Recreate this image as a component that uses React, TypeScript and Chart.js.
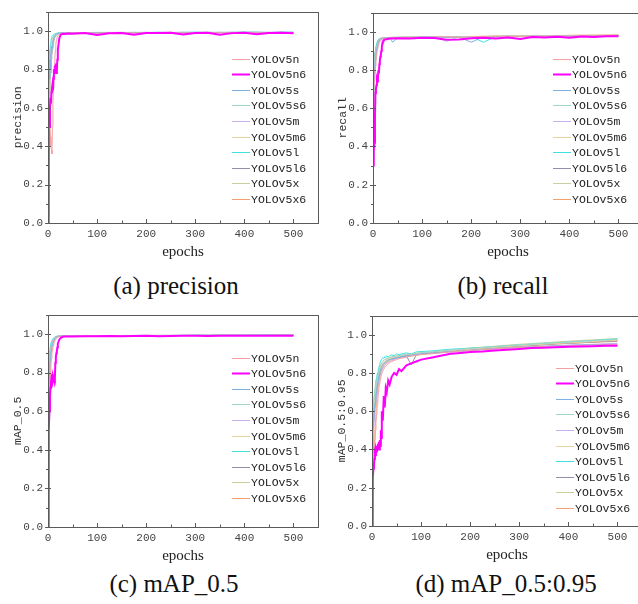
import React, { useEffect, useRef } from 'react';
import { Chart, registerables } from 'chart.js';

Chart.register(...registerables);

const MODELS = ['YOLOv5n', 'YOLOv5n6', 'YOLOv5s', 'YOLOv5s6', 'YOLOv5m', 'YOLOv5m6', 'YOLOv5l', 'YOLOv5l6', 'YOLOv5x', 'YOLOv5x6'];
const COLORS = ['#f4a0a0', '#ff00ff', '#7fb0e0', '#9fd8c8', '#c8b0f0', '#e8d0a0', '#40e0e0', '#9090a8', '#c8d0a0', '#f4a070'];
const WIDTHS = [1, 2, 1, 1, 1, 1, 1, 1, 1, 1];

const X_TICKS = [0, 100, 200, 300, 400, 500];
const Y_TICKS = [0, 0.2, 0.4, 0.6, 0.8, 1.0];

// epochs sampled for precision / recall / mAP_0.5
const EPOCHS_1 = [0, 1, 2, 3, 4, 5, 6, 7, 8, 9, 10, 11, 12, 13, 14, 15, 16, 17, 18, 19, 20,
  23, 26, 30, 35, 40,
  50, 75, 100, 125, 150, 175, 200, 225, 250, 275, 300, 325, 350, 375, 400, 425, 450, 475, 500];

// epochs sampled for mAP_0.5:0.95
const EPOCHS_2 = [0, 1, 2, 3, 4, 5, 6, 7, 8, 9, 10, 11, 12, 13, 14, 15, 16, 17, 18, 19, 20,
  22, 24, 26, 28, 30,
  33, 36, 40, 45, 50, 55, 60,
  70, 80, 90, 100,
  120, 140, 160, 180, 200,
  225, 250, 275, 300, 325, 350, 375, 400, 425, 450, 475, 500];

const PRECISION = [
  [0.05, 0.45, 0.6, 0.55, 0.5, 0.45, 0.4, 0.38, 0.36, 0.5, 0.62, 0.7, 0.75, 0.82, 0.86, 0.9, 0.93, 0.95, 0.96, 0.97, 0.975,
    0.98, 0.985, 0.987, 0.988, 0.989,
    0.989, 0.99, 0.988, 0.99, 0.991, 0.989, 0.99, 0.99, 0.991, 0.989, 0.99, 0.991, 0.99, 0.99, 0.991, 0.99, 0.99, 0.991, 0.99],
  [0.0, 0.3, 0.55, 0.5, 0.6, 0.65, 0.62, 0.68, 0.7, 0.72, 0.69, 0.75, 0.8, 0.78, 0.82, 0.79, 0.83, 0.78, 0.79, 0.85, 0.9,
    0.96, 0.98, 0.985, 0.984, 0.986,
    0.985, 0.988, 0.978, 0.987, 0.988, 0.98, 0.989, 0.988, 0.99, 0.981, 0.989, 0.99, 0.979, 0.988, 0.99, 0.982, 0.989, 0.99, 0.987],
  [0.3, 0.7, 0.8, 0.75, 0.85, 0.8, 0.88, 0.9, 0.92, 0.91, 0.94, 0.95, 0.96, 0.965, 0.97, 0.975, 0.978, 0.98, 0.982, 0.984, 0.985,
    0.986, 0.988, 0.989, 0.99, 0.99,
    0.99, 0.991, 0.99, 0.991, 0.992, 0.99, 0.991, 0.992, 0.991, 0.99, 0.992, 0.991, 0.992, 0.991, 0.992, 0.993, 0.992, 0.992, 0.993],
  [0.2, 0.6, 0.7, 0.65, 0.75, 0.8, 0.78, 0.85, 0.88, 0.9, 0.93, 0.95, 0.96, 0.97, 0.975, 0.98, 0.98, 0.982, 0.984, 0.985, 0.986,
    0.987, 0.988, 0.989, 0.99, 0.99,
    0.991, 0.99, 0.991, 0.992, 0.991, 0.99, 0.992, 0.991, 0.992, 0.991, 0.99, 0.992, 0.991, 0.992, 0.993, 0.992, 0.991, 0.992, 0.992],
  [0.85, 0.9, 0.8, 0.85, 0.82, 0.88, 0.9, 0.92, 0.9, 0.93, 0.95, 0.96, 0.965, 0.97, 0.975, 0.978, 0.98, 0.982, 0.984, 0.985, 0.986,
    0.987, 0.988, 0.989, 0.99, 0.99,
    0.99, 0.991, 0.99, 0.99, 0.991, 0.992, 0.99, 0.991, 0.99, 0.992, 0.991, 0.99, 0.991, 0.992, 0.991, 0.99, 0.992, 0.991, 0.99],
  [0.4, 0.65, 0.75, 0.7, 0.8, 0.85, 0.82, 0.88, 0.9, 0.92, 0.95, 0.93, 0.96, 0.97, 0.975, 0.97, 0.98, 0.982, 0.983, 0.985, 0.986,
    0.987, 0.988, 0.99, 0.99, 0.99,
    0.99, 0.99, 0.991, 0.99, 0.992, 0.991, 0.99, 0.991, 0.992, 0.99, 0.991, 0.992, 0.991, 0.99, 0.991, 0.992, 0.991, 0.99, 0.991],
  [0.5, 0.75, 0.85, 0.8, 0.9, 0.93, 0.95, 0.96, 0.97, 0.975, 0.978, 0.98, 0.982, 0.984, 0.985, 0.985, 0.986, 0.987, 0.988, 0.988, 0.989,
    0.989, 0.99, 0.99, 0.99, 0.991,
    0.991, 0.99, 0.992, 0.991, 0.99, 0.992, 0.991, 0.992, 0.991, 0.992, 0.993, 0.992, 0.991, 0.992, 0.993, 0.992, 0.991, 0.993, 0.992],
  [0.9, 0.88, 0.7, 0.75, 0.8, 0.78, 0.85, 0.88, 0.9, 0.92, 0.94, 0.95, 0.96, 0.97, 0.972, 0.975, 0.978, 0.98, 0.982, 0.984, 0.985,
    0.986, 0.988, 0.989, 0.99, 0.99,
    0.99, 0.991, 0.99, 0.991, 0.99, 0.991, 0.992, 0.99, 0.991, 0.992, 0.991, 0.99, 0.992, 0.991, 0.992, 0.99, 0.991, 0.992, 0.991],
  [0.6, 0.7, 0.65, 0.75, 0.8, 0.85, 0.9, 0.92, 0.95, 0.96, 0.965, 0.97, 0.975, 0.978, 0.98, 0.982, 0.984, 0.985, 0.986, 0.987, 0.988,
    0.988, 0.989, 0.99, 0.99, 0.99,
    0.99, 0.991, 0.99, 0.99, 0.991, 0.99, 0.991, 0.992, 0.99, 0.991, 0.99, 0.992, 0.991, 0.99, 0.991, 0.992, 0.99, 0.991, 0.99],
  [0.55, 0.6, 0.7, 0.68, 0.75, 0.8, 0.85, 0.9, 0.88, 0.92, 0.94, 0.96, 0.97, 0.975, 0.978, 0.98, 0.982, 0.984, 0.985, 0.986, 0.987,
    0.988, 0.989, 0.99, 0.99, 0.99,
    0.99, 0.99, 0.991, 0.99, 0.991, 0.99, 0.991, 0.99, 0.992, 0.99, 0.991, 0.99, 0.991, 0.992, 0.99, 0.991, 0.99, 0.991, 0.99],
];

const RECALL = [
  [0.4, 0.6, 0.7, 0.75, 0.8, 0.82, 0.85, 0.88, 0.9, 0.91, 0.92, 0.93, 0.94, 0.945, 0.95, 0.955, 0.958, 0.96, 0.962, 0.963, 0.964,
    0.965, 0.966, 0.966, 0.967, 0.967,
    0.968, 0.97, 0.969, 0.972, 0.973, 0.971, 0.974, 0.975, 0.973, 0.976, 0.975, 0.977, 0.976, 0.978, 0.977, 0.979, 0.978, 0.98, 0.981],
  [0.3, 0.45, 0.38, 0.42, 0.55, 0.68, 0.7, 0.72, 0.75, 0.74, 0.76, 0.8, 0.78, 0.83, 0.85, 0.87, 0.88, 0.9, 0.92, 0.94, 0.95,
    0.958, 0.96, 0.962, 0.964, 0.965,
    0.966, 0.965, 0.968, 0.967, 0.958, 0.96, 0.966, 0.968, 0.965, 0.97, 0.962, 0.972, 0.97, 0.974, 0.968, 0.975, 0.973, 0.976, 0.977],
  [0.35, 0.6, 0.72, 0.78, 0.8, 0.85, 0.87, 0.9, 0.91, 0.92, 0.93, 0.94, 0.95, 0.955, 0.958, 0.96, 0.962, 0.963, 0.964, 0.965, 0.965,
    0.966, 0.967, 0.967, 0.968, 0.945,
    0.968, 0.969, 0.97, 0.971, 0.97, 0.972, 0.945, 0.973, 0.974, 0.975, 0.974, 0.976, 0.975, 0.977, 0.976, 0.977, 0.978, 0.977, 0.978],
  [0.5, 0.65, 0.75, 0.8, 0.84, 0.86, 0.88, 0.9, 0.92, 0.93, 0.94, 0.945, 0.95, 0.955, 0.958, 0.96, 0.962, 0.963, 0.964, 0.965, 0.966,
    0.966, 0.967, 0.968, 0.968, 0.969,
    0.969, 0.97, 0.971, 0.972, 0.95, 0.973, 0.974, 0.974, 0.975, 0.976, 0.976, 0.977, 0.977, 0.978, 0.978, 0.979, 0.979, 0.98, 0.98],
  [0.55, 0.7, 0.78, 0.82, 0.85, 0.87, 0.89, 0.9, 0.92, 0.93, 0.94, 0.945, 0.95, 0.955, 0.96, 0.962, 0.963, 0.964, 0.965, 0.966, 0.967,
    0.945, 0.967, 0.968, 0.968, 0.969,
    0.969, 0.97, 0.971, 0.972, 0.972, 0.973, 0.974, 0.974, 0.975, 0.976, 0.975, 0.977, 0.976, 0.977, 0.978, 0.977, 0.979, 0.978, 0.979],
  [0.6, 0.72, 0.8, 0.84, 0.86, 0.88, 0.9, 0.91, 0.92, 0.93, 0.94, 0.95, 0.955, 0.96, 0.962, 0.964, 0.965, 0.966, 0.967, 0.967, 0.968,
    0.968, 0.969, 0.969, 0.97, 0.97,
    0.97, 0.971, 0.972, 0.973, 0.974, 0.975, 0.975, 0.976, 0.977, 0.977, 0.978, 0.979, 0.979, 0.98, 0.981, 0.981, 0.982, 0.982, 0.983],
  [0.45, 0.65, 0.78, 0.84, 0.87, 0.9, 0.92, 0.93, 0.94, 0.95, 0.955, 0.958, 0.96, 0.962, 0.963, 0.964, 0.965, 0.966, 0.966, 0.967, 0.967,
    0.968, 0.968, 0.969, 0.969, 0.97,
    0.97, 0.971, 0.971, 0.972, 0.973, 0.973, 0.974, 0.945, 0.975, 0.976, 0.976, 0.977, 0.977, 0.978, 0.978, 0.979, 0.979, 0.98, 0.98],
  [0.65, 0.75, 0.8, 0.85, 0.88, 0.9, 0.91, 0.92, 0.93, 0.94, 0.95, 0.955, 0.958, 0.96, 0.962, 0.964, 0.965, 0.966, 0.967, 0.967, 0.968,
    0.968, 0.969, 0.969, 0.97, 0.97,
    0.97, 0.971, 0.972, 0.972, 0.973, 0.974, 0.974, 0.975, 0.976, 0.976, 0.977, 0.977, 0.978, 0.978, 0.979, 0.979, 0.98, 0.98, 0.981],
  [0.7, 0.78, 0.83, 0.86, 0.88, 0.9, 0.92, 0.93, 0.94, 0.95, 0.955, 0.96, 0.962, 0.964, 0.965, 0.966, 0.966, 0.967, 0.967, 0.968, 0.968,
    0.969, 0.969, 0.97, 0.97, 0.97,
    0.971, 0.971, 0.972, 0.973, 0.973, 0.974, 0.975, 0.975, 0.976, 0.977, 0.977, 0.978, 0.978, 0.979, 0.98, 0.98, 0.981, 0.981, 0.982],
  [0.6, 0.7, 0.78, 0.82, 0.85, 0.88, 0.9, 0.91, 0.93, 0.94, 0.95, 0.955, 0.96, 0.962, 0.964, 0.965, 0.966, 0.966, 0.967, 0.968, 0.968,
    0.969, 0.969, 0.97, 0.97, 0.971,
    0.971, 0.972, 0.972, 0.973, 0.974, 0.975, 0.975, 0.976, 0.977, 0.977, 0.978, 0.979, 0.98, 0.98, 0.981, 0.982, 0.982, 0.983, 0.984],
];

const MAP50 = [
  [0.3, 0.55, 0.65, 0.7, 0.75, 0.8, 0.84, 0.87, 0.9, 0.92, 0.93, 0.94, 0.95, 0.96, 0.965, 0.97, 0.975, 0.978, 0.98, 0.982, 0.984,
    0.986, 0.987, 0.988, 0.989, 0.989,
    0.989, 0.99, 0.99, 0.99, 0.99, 0.99, 0.991, 0.991, 0.991, 0.991, 0.991, 0.992, 0.992, 0.992, 0.992, 0.992, 0.992, 0.993, 0.993],
  [0.0, 0.3, 0.5, 0.6, 0.68, 0.72, 0.75, 0.77, 0.76, 0.78, 0.76, 0.77, 0.76, 0.78, 0.77, 0.85, 0.88, 0.9, 0.91, 0.93, 0.95,
    0.97, 0.98, 0.985, 0.986, 0.987,
    0.987, 0.988, 0.988, 0.989, 0.988, 0.989, 0.99, 0.988, 0.989, 0.99, 0.99, 0.989, 0.99, 0.991, 0.99, 0.991, 0.991, 0.99, 0.991],
  [0.4, 0.6, 0.72, 0.8, 0.85, 0.88, 0.9, 0.92, 0.93, 0.94, 0.95, 0.96, 0.965, 0.97, 0.975, 0.978, 0.98, 0.982, 0.984, 0.985, 0.986,
    0.987, 0.988, 0.989, 0.989, 0.99,
    0.99, 0.99, 0.99, 0.991, 0.991, 0.991, 0.991, 0.992, 0.992, 0.992, 0.992, 0.992, 0.993, 0.993, 0.993, 0.993, 0.993, 0.993, 0.994],
  [0.5, 0.65, 0.75, 0.82, 0.87, 0.9, 0.92, 0.93, 0.94, 0.95, 0.96, 0.965, 0.97, 0.975, 0.978, 0.98, 0.982, 0.984, 0.985, 0.986, 0.987,
    0.988, 0.989, 0.989, 0.99, 0.99,
    0.99, 0.99, 0.991, 0.991, 0.991, 0.991, 0.992, 0.992, 0.992, 0.992, 0.992, 0.993, 0.993, 0.993, 0.993, 0.993, 0.993, 0.994, 0.994],
  [0.6, 0.7, 0.78, 0.84, 0.88, 0.9, 0.92, 0.94, 0.95, 0.96, 0.965, 0.97, 0.975, 0.978, 0.98, 0.982, 0.984, 0.985, 0.986, 0.987, 0.988,
    0.988, 0.989, 0.99, 0.99, 0.99,
    0.99, 0.991, 0.991, 0.991, 0.991, 0.992, 0.992, 0.992, 0.992, 0.992, 0.993, 0.993, 0.993, 0.993, 0.993, 0.993, 0.994, 0.994, 0.994],
  [0.55, 0.72, 0.8, 0.85, 0.88, 0.91, 0.93, 0.94, 0.95, 0.96, 0.965, 0.97, 0.975, 0.978, 0.98, 0.982, 0.984, 0.985, 0.986, 0.987, 0.988,
    0.988, 0.989, 0.989, 0.99, 0.99,
    0.99, 0.99, 0.991, 0.991, 0.991, 0.991, 0.992, 0.992, 0.992, 0.992, 0.992, 0.993, 0.993, 0.993, 0.993, 0.993, 0.993, 0.993, 0.994],
  [0.65, 0.78, 0.85, 0.9, 0.92, 0.94, 0.95, 0.96, 0.965, 0.97, 0.975, 0.978, 0.98, 0.982, 0.984, 0.985, 0.986, 0.987, 0.988, 0.988, 0.989,
    0.989, 0.99, 0.99, 0.99, 0.99,
    0.991, 0.991, 0.991, 0.991, 0.992, 0.992, 0.992, 0.992, 0.992, 0.993, 0.993, 0.993, 0.993, 0.993, 0.993, 0.994, 0.994, 0.994, 0.994],
  [0.6, 0.75, 0.82, 0.87, 0.9, 0.92, 0.94, 0.95, 0.96, 0.965, 0.97, 0.975, 0.978, 0.98, 0.982, 0.984, 0.985, 0.986, 0.987, 0.988, 0.988,
    0.989, 0.989, 0.99, 0.99, 0.99,
    0.99, 0.991, 0.991, 0.991, 0.991, 0.992, 0.992, 0.992, 0.992, 0.992, 0.993, 0.993, 0.993, 0.993, 0.993, 0.993, 0.994, 0.994, 0.994],
  [0.7, 0.8, 0.85, 0.86, 0.88, 0.9, 0.92, 0.94, 0.95, 0.96, 0.965, 0.97, 0.975, 0.978, 0.98, 0.982, 0.984, 0.985, 0.986, 0.987, 0.988,
    0.988, 0.989, 0.99, 0.99, 0.99,
    0.99, 0.991, 0.991, 0.991, 0.991, 0.991, 0.992, 0.992, 0.992, 0.992, 0.992, 0.993, 0.993, 0.993, 0.993, 0.993, 0.993, 0.994, 0.994],
  [0.58, 0.6, 0.7, 0.78, 0.84, 0.88, 0.9, 0.92, 0.94, 0.95, 0.96, 0.965, 0.97, 0.975, 0.978, 0.98, 0.982, 0.984, 0.985, 0.986, 0.987,
    0.988, 0.988, 0.989, 0.99, 0.99,
    0.99, 0.99, 0.991, 0.991, 0.991, 0.991, 0.992, 0.992, 0.992, 0.992, 0.992, 0.992, 0.993, 0.993, 0.993, 0.993, 0.993, 0.993, 0.994],
];

const MAP5095 = [
  [0.05, 0.2, 0.28, 0.32, 0.36, 0.4, 0.45, 0.5, 0.55, 0.58, 0.6, 0.64, 0.66, 0.7, 0.72, 0.74, 0.75, 0.77, 0.78, 0.79, 0.8,
    0.81, 0.82, 0.83, 0.835, 0.84,
    0.85, 0.855, 0.86, 0.865, 0.87, 0.875, 0.878,
    0.883, 0.888, 0.892, 0.896,
    0.9, 0.905, 0.91, 0.914, 0.918,
    0.922, 0.926, 0.93, 0.933, 0.936, 0.938, 0.94, 0.942, 0.944, 0.945, 0.947, 0.948],
  [0.0, 0.15, 0.25, 0.3, 0.32, 0.35, 0.38, 0.37, 0.4, 0.39, 0.42, 0.4, 0.43, 0.41, 0.44, 0.4, 0.45, 0.42, 0.5, 0.46, 0.6,
    0.55, 0.68, 0.62, 0.72, 0.7,
    0.76, 0.74, 0.78, 0.8, 0.79, 0.82, 0.81,
    0.84, 0.85, 0.86, 0.87,
    0.88, 0.89, 0.9, 0.905, 0.91,
    0.912, 0.918, 0.922, 0.926, 0.93, 0.932, 0.935, 0.937, 0.939, 0.94, 0.942, 0.943],
  [0.3, 0.45, 0.5, 0.55, 0.6, 0.62, 0.63, 0.65, 0.68, 0.7, 0.72, 0.74, 0.75, 0.76, 0.78, 0.79, 0.8, 0.81, 0.82, 0.82, 0.83,
    0.84, 0.845, 0.85, 0.855, 0.86,
    0.865, 0.87, 0.872, 0.875, 0.88, 0.882, 0.885,
    0.89, 0.893, 0.896, 0.9,
    0.904, 0.908, 0.912, 0.915, 0.918,
    0.922, 0.926, 0.93, 0.934, 0.937, 0.94, 0.942, 0.944, 0.946, 0.948, 0.949, 0.95],
  [0.35, 0.5, 0.55, 0.6, 0.62, 0.65, 0.68, 0.7, 0.72, 0.74, 0.76, 0.77, 0.78, 0.8, 0.81, 0.82, 0.83, 0.84, 0.845, 0.85, 0.855,
    0.86, 0.865, 0.87, 0.872, 0.875,
    0.878, 0.88, 0.883, 0.886, 0.888, 0.89, 0.892,
    0.896, 0.9, 0.903, 0.906,
    0.91, 0.915, 0.92, 0.924, 0.928,
    0.933, 0.938, 0.943, 0.947, 0.951, 0.955, 0.959, 0.962, 0.966, 0.969, 0.972, 0.975],
  [0.25, 0.4, 0.48, 0.52, 0.56, 0.6, 0.62, 0.64, 0.66, 0.68, 0.7, 0.72, 0.74, 0.75, 0.76, 0.77, 0.78, 0.79, 0.8, 0.81, 0.815,
    0.825, 0.83, 0.84, 0.845, 0.85,
    0.855, 0.86, 0.865, 0.87, 0.875, 0.878, 0.88,
    0.885, 0.89, 0.894, 0.898,
    0.902, 0.906, 0.91, 0.914, 0.918,
    0.922, 0.926, 0.93, 0.934, 0.937, 0.94, 0.943, 0.946, 0.948, 0.95, 0.953, 0.955],
  [0.4, 0.5, 0.55, 0.6, 0.63, 0.66, 0.68, 0.7, 0.72, 0.74, 0.75, 0.76, 0.78, 0.79, 0.8, 0.81, 0.82, 0.83, 0.835, 0.84, 0.845,
    0.85, 0.855, 0.86, 0.865, 0.87,
    0.872, 0.875, 0.878, 0.882, 0.885, 0.888, 0.89,
    0.894, 0.897, 0.9, 0.903,
    0.907, 0.912, 0.916, 0.92, 0.924,
    0.929, 0.934, 0.938, 0.942, 0.946, 0.95, 0.954, 0.957, 0.96, 0.964, 0.968, 0.972],
  [0.2, 0.45, 0.55, 0.6, 0.65, 0.68, 0.7, 0.72, 0.75, 0.77, 0.78, 0.8, 0.79, 0.82, 0.83, 0.84, 0.85, 0.86, 0.86, 0.87, 0.875,
    0.88, 0.875, 0.885, 0.88, 0.89,
    0.885, 0.89, 0.895, 0.89, 0.9, 0.895, 0.9,
    0.905, 0.9, 0.91, 0.912,
    0.915, 0.92, 0.924, 0.927, 0.93,
    0.934, 0.938, 0.942, 0.946, 0.95, 0.954, 0.958, 0.962, 0.966, 0.97, 0.974, 0.978],
  [0.3, 0.42, 0.5, 0.55, 0.6, 0.62, 0.65, 0.68, 0.7, 0.72, 0.74, 0.75, 0.76, 0.78, 0.79, 0.8, 0.81, 0.82, 0.83, 0.835, 0.84,
    0.845, 0.85, 0.855, 0.86, 0.865,
    0.87, 0.872, 0.875, 0.878, 0.88, 0.883, 0.885,
    0.89, 0.842, 0.895, 0.9,
    0.905, 0.91, 0.914, 0.918, 0.922,
    0.927, 0.932, 0.936, 0.94, 0.944, 0.948, 0.952, 0.955, 0.958, 0.962, 0.965, 0.968],
  [0.45, 0.55, 0.6, 0.64, 0.67, 0.7, 0.72, 0.74, 0.76, 0.77, 0.78, 0.79, 0.8, 0.81, 0.82, 0.83, 0.835, 0.84, 0.845, 0.85, 0.855,
    0.86, 0.865, 0.87, 0.873, 0.876,
    0.88, 0.882, 0.885, 0.888, 0.89, 0.892, 0.894,
    0.898, 0.9, 0.903, 0.906,
    0.91, 0.915, 0.92, 0.925, 0.93,
    0.935, 0.94, 0.945, 0.95, 0.954, 0.958, 0.962, 0.966, 0.97, 0.973, 0.977, 0.98],
  [0.38, 0.4, 0.42, 0.4, 0.42, 0.45, 0.5, 0.55, 0.6, 0.65, 0.68, 0.7, 0.72, 0.74, 0.76, 0.78, 0.79, 0.8, 0.81, 0.815, 0.82,
    0.83, 0.84, 0.845, 0.85, 0.855,
    0.86, 0.865, 0.87, 0.874, 0.878, 0.882, 0.885,
    0.89, 0.894, 0.897, 0.9,
    0.905, 0.91, 0.914, 0.918, 0.922,
    0.927, 0.932, 0.936, 0.94, 0.944, 0.948, 0.952, 0.955, 0.958, 0.96, 0.963, 0.965],
];

const MONO = '"Liberation Mono", monospace';
const SERIF = '"Liberation Serif", "Times New Roman", serif';

type PanelSpec = {
  key: string;
  yTitle: string;
  caption: string;
  epochs: number[];
  values: number[][];
  box: [number, number, number, number]; // left, top, right, bottom (page px)
  legendDX: number;
  legendDY: number;
  captionX: number;
  captionY: number;
};

const PANELS: PanelSpec[] = [
  { key: 'a', yTitle: 'precision', caption: '(a) precision', epochs: EPOCHS_1, values: PRECISION, box: [48, 6, 318, 223], legendDX: 184, legendDY: 47, captionX: 176, captionY: 286 },
  { key: 'b', yTitle: 'recall', caption: '(b) recall', epochs: EPOCHS_1, values: RECALL, box: [373, 7, 643, 223], legendDX: 180, legendDY: 46, captionX: 503, captionY: 286 },
  { key: 'c', yTitle: 'mAP_0.5', caption: '(c) mAP_0.5', epochs: EPOCHS_1, values: MAP50, box: [48, 309, 318, 527], legendDX: 184, legendDY: 43, captionX: 174, captionY: 584 },
  { key: 'd', yTitle: 'mAP_0.5:0.95', caption: '(d) mAP_0.5:0.95', epochs: EPOCHS_2, values: MAP5095, box: [372, 310, 642, 526], legendDX: 184, legendDY: 52, captionX: 506, captionY: 584 },
];

const Y_AXIS_W = 48;
const X_AXIS_H = 38;
const PAD_TOP = 6;
const PAD_RIGHT = 4;

const framePlugin = {
  id: 'frame',
  afterDatasetsDraw(chart: any, _args: any, opts: any) {
    const { ctx, chartArea: a, scales } = chart;
    ctx.save();
    // frame
    ctx.strokeStyle = '#5a5a5a';
    ctx.lineWidth = 1;
    ctx.strokeRect(Math.round(a.left) + 0.5, Math.round(a.top) + 0.5, Math.round(a.right - a.left), Math.round(a.bottom - a.top));
    // x ticks (inward)
    const xs = scales.x;
    for (let v = xs.min; v <= xs.max; v += 50) {
      const px = Math.round(xs.getPixelForValue(v)) + 0.5;
      const len = v % 100 === 0 ? 4 : 2.5;
      ctx.beginPath();
      ctx.moveTo(px, a.bottom);
      ctx.lineTo(px, a.bottom - len);
      ctx.stroke();
    }
    // y ticks
    const ys = scales.y;
    for (let k = 0; k <= 11; k++) {
      const v = k / 10;
      const py = Math.round(ys.getPixelForValue(v)) + 0.5;
      const major = k % 2 === 0;
      ctx.beginPath();
      if (major) {
        ctx.moveTo(a.left - 3, py);
        ctx.lineTo(a.left + 3, py);
      } else {
        ctx.moveTo(a.left - 2, py);
        ctx.lineTo(a.left, py);
      }
      ctx.stroke();
    }
    // legend
    const x0 = a.left + opts.dx;
    chart.data.datasets.forEach((ds: any, i: number) => {
      const y = Math.round(a.top + opts.dy + i * 15.6) + 0.5;
      ctx.strokeStyle = ds.borderColor;
      ctx.lineWidth = ds.borderWidth;
      ctx.beginPath();
      ctx.moveTo(x0, y);
      ctx.lineTo(x0 + 18, y);
      ctx.stroke();
      ctx.fillStyle = '#222';
      ctx.font = `11.5px ${MONO}`;
      ctx.textBaseline = 'middle';
      ctx.textAlign = 'left';
      ctx.fillText(ds.label, x0 + 19, y + 0.5);
    });
    ctx.restore();
  },
};

function Panel({ spec }: { spec: PanelSpec }) {
  const ref = useRef<HTMLCanvasElement | null>(null);
  const [l, t, r, b] = spec.box;
  const cw = Y_AXIS_W + (r - l) + PAD_RIGHT;
  const chh = PAD_TOP + (b - t) + X_AXIS_H;

  useEffect(() => {
    if (!ref.current) return;
    const datasets = MODELS.map((name, i) => {
      const vals = spec.values[i];
      const n = Math.min(vals.length, spec.epochs.length);
      const pts = [] as { x: number; y: number }[];
      for (let k = 0; k < n; k++) pts.push({ x: spec.epochs[k], y: vals[k] });
      return {
        label: name,
        data: pts,
        borderColor: COLORS[i],
        backgroundColor: COLORS[i],
        borderWidth: WIDTHS[i],
        pointRadius: 0,
        tension: 0,
        fill: false,
        order: i === 1 ? -1 : i,
      };
    });
    const chart = new Chart(ref.current, {
      type: 'line',
      data: { datasets },
      plugins: [framePlugin],
      options: {
        responsive: false,
        animation: false,
        events: [],
        layout: { padding: { top: PAD_TOP, right: PAD_RIGHT, left: 0, bottom: 0 } },
        plugins: {
          legend: { display: false },
          tooltip: { enabled: false },
          frame: { dx: spec.legendDX, dy: spec.legendDY },
        } as any,
        scales: {
          x: {
            type: 'linear',
            min: 0,
            max: 550,
            afterFit: (s: any) => { s.height = X_AXIS_H; },
            afterBuildTicks: (s: any) => { s.ticks = X_TICKS.map((v) => ({ value: v })); },
            ticks: { font: { family: MONO, size: 11 }, color: '#444', padding: 4, maxRotation: 0, autoSkip: false },
            grid: { display: false, drawTicks: false },
            border: { display: false },
            title: { display: true, text: 'epochs', font: { family: SERIF, size: 15 }, color: '#222', padding: 0 },
          },
          y: {
            min: 0,
            max: 1.1,
            afterFit: (s: any) => { s.width = Y_AXIS_W; },
            afterBuildTicks: (s: any) => { s.ticks = Y_TICKS.map((v) => ({ value: v })); },
            ticks: { font: { family: MONO, size: 11 }, color: '#444', padding: 5, callback: (v: any) => Number(v).toFixed(1) },
            grid: { display: false, drawTicks: false },
            border: { display: false },
            title: { display: true, text: spec.yTitle, font: { family: MONO, size: 11.5 }, color: '#333', padding: { top: 11, bottom: 0 } },
          },
        },
      } as any,
    });
    return () => chart.destroy();
  }, [spec]);

  return (
    <>
      <canvas
        ref={ref}
        width={cw}
        height={chh}
        style={{ position: 'absolute', left: l - Y_AXIS_W, top: t - PAD_TOP, width: cw, height: chh }}
      />
      <div
        style={{
          position: 'absolute',
          left: spec.captionX - 150,
          top: spec.captionY - 15,
          width: 300,
          height: 30,
          lineHeight: '30px',
          textAlign: 'center',
          fontFamily: SERIF,
          fontSize: 25,
          color: '#111',
          whiteSpace: 'nowrap',
        }}
      >
        {spec.caption}
      </div>
    </>
  );
}

export default function App() {
  return (
    <div style={{ position: 'absolute', left: 0, top: 0, width: 638, height: 604, overflow: 'hidden', background: '#fff' }}>
      {PANELS.map((p) => (
        <Panel key={p.key} spec={p} />
      ))}
    </div>
  );
}
